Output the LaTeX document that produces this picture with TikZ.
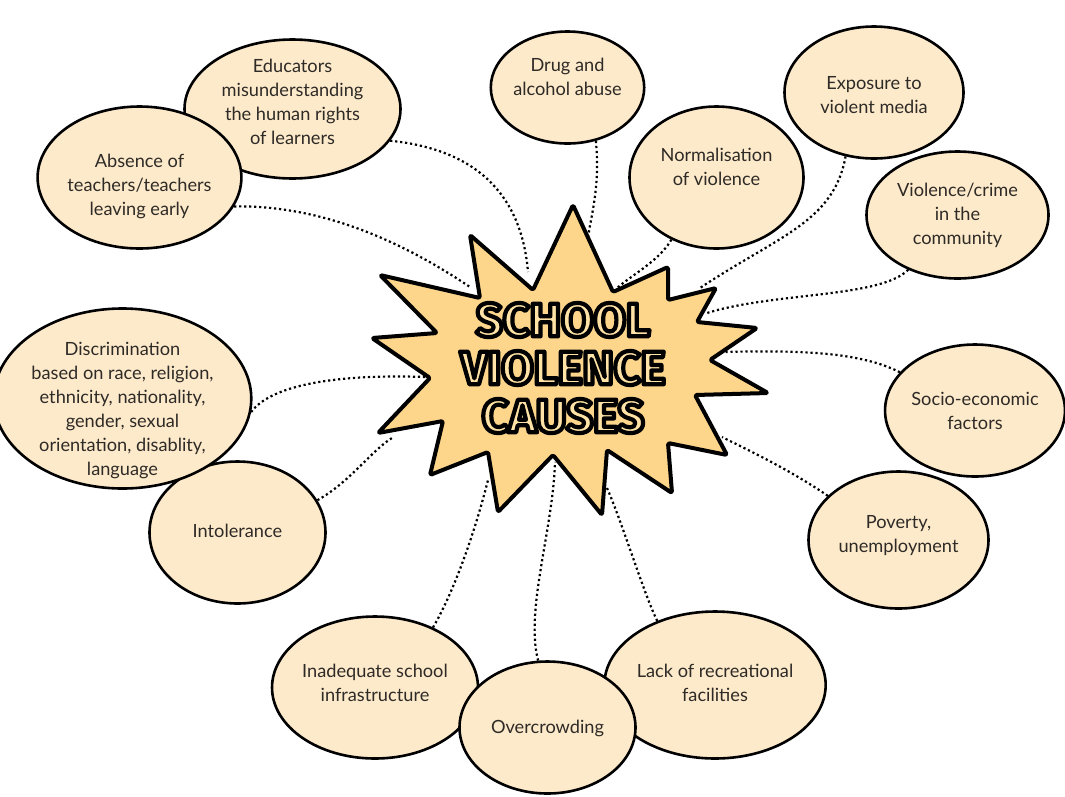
\documentclass[tikz,border=0pt]{standalone}
\usepackage{fontspec}
\setmainfont{Lato}
\newfontfamily\titlefont{Fira Sans}
\usetikzlibrary{shapes.geometric}
\definecolor{bub}{HTML}{FDEACB}
\definecolor{starc}{HTML}{FDD68C}
\definecolor{letc}{HTML}{FFE3A6}
\definecolor{txt}{HTML}{2E2A26}
\newcommand\bubtext[2]{\raisebox{#1}[0pt][0pt]{\begin{tabular}{@{}c@{}}#2\end{tabular}}}
\newcommand\outl[1]{{\color{letc}\special{pdf:literal direct 0 0 0 RG 4.2 w 1 j 2 Tr}#1\special{pdf:literal direct 0 Tr}}}
\tikzset{
  bubble/.style={ellipse, draw=black, line width=2.6pt, fill=bub, inner sep=0pt,
    text=txt, font=\fontsize{18.2}{24}\selectfont},
  conn/.style={draw=black, line width=2.2pt, dash pattern=on 2.2pt off 2.8pt},
  starshape/.style={draw=black, line width=4pt, fill=starc, line join=round, rounded corners=1.5pt},
}
\begin{document}
\begin{tikzpicture}[x=1pt,y=-1pt]
\useasboundingbox (0,0) rectangle (1065,796);

% star end points
\coordinate (eDrug) at (588,237);
\coordinate (eNorm) at (617,288);
\coordinate (eExpo) at (700,288);
\coordinate (eViol) at (707,313);
\coordinate (eSoc) at (725,352);
\coordinate (ePov) at (722,437);
\coordinate (eLack) at (607,488);
\coordinate (eOver) at (555,462);
\coordinate (eInad) at (488,480);
\coordinate (eIntol) at (392,438);
\coordinate (eDisc) at (425,377);
\coordinate (eAbs) at (470,287);
\coordinate (eEdu) at (528,272);

% bubbles
\node[bubble, minimum width=152pt, minimum height=112pt] (drug) at (567.5,87.5) {\bubtext{4.6pt}{Drug and\\alcohol abuse}};
\node[bubble, minimum width=179pt, minimum height=132pt] (expo) at (874,92.5) {\bubtext{-8.4pt}{Exposure to\\violent media}};
\node[bubble, minimum width=174pt, minimum height=142pt] (norm) at (716.5,177.5) {\bubtext{4.6pt}{Normalisation\\of violence}};
\node[bubble, minimum width=182pt, minimum height=127pt] (viol) at (957.5,215) {\bubtext{-5.4pt}{Violence/crime\\in the\\community}};
\node[bubble, minimum width=171pt, minimum height=132pt] (soc) at (975,410.5) {\bubtext{-6.4pt}{Socio-economic\\factors}};
\node[bubble, minimum width=180pt, minimum height=137pt] (pov) at (898.5,540) {\bubtext{-0.4pt}{Poverty,\\unemployment}};
\node[bubble, minimum width=173pt, minimum height=142pt] (inad) at (375,687.5) {\bubtext{-1.4pt}{Inadequate school\\infrastructure}};
\node[bubble, minimum width=167pt, minimum height=147pt] (lack) at (715,685) {\bubtext{-4.4pt}{Lack of recreational\\facilities}};
\node[bubble, minimum width=176pt, minimum height=132pt] (over) at (547.5,727.5) {\bubtext{-5.4pt}{Overcrowding}};
\node[bubble, minimum width=176pt, minimum height=142pt] (intol) at (237.5,532.5) {\bubtext{-4.4pt}{Intolerance}};
\node[bubble, minimum width=218pt, minimum height=180pt] (disc) at (122.5,398.5) {\bubtext{-16.4pt}{Discrimination\\based on race, religion,\\ethnicity, nationality,\\gender, sexual\\orientation, disablity,\\language}};
\node[bubble, minimum width=216pt, minimum height=139pt] (edu) at (292.5,109) {\bubtext{0.6pt}{Educators\\misunderstanding\\the human rights\\of learners}};
\node[bubble, minimum width=182pt, minimum height=142pt] (abs) at (139.5,177.5) {\bubtext{-13.4pt}{Absence of\\teachers/teachers\\leaving early}};

% connectors
\draw[conn] (drug.-62) .. controls (600,185) and (592,212) .. (eDrug);
\draw[conn] (norm.-126) .. controls (660,260) and (632,275) .. (eNorm);
\draw[conn] (expo.-114) .. controls (834,222) and (778,236) .. (eExpo);
\draw[conn] (viol.-132) .. controls (880,298) and (775,292) .. (eViol);
\draw[conn] (soc.153) .. controls (860,352) and (800,350) .. (eSoc);
\draw[conn] (pov.148) .. controls (790,470) and (752,452) .. (ePov);
\draw[conn] (lack.132) .. controls (645,597) and (622,522) .. (eLack);
\draw[conn] (over.98) .. controls (525,610) and (553,530) .. (eOver);
\draw[conn] (inad.46) .. controls (455,590) and (476,528) .. (eInad);
\draw[conn] (intol.22) .. controls (350,482) and (372,450) .. (eIntol);
\draw[conn] (disc.-6) .. controls (272,384) and (340,374) .. (eDisc);
\draw[conn] (abs.-17) .. controls (320,205) and (400,240) .. (eAbs);
\draw[conn] (edu.-18) .. controls (482,150) and (522,200) .. (eEdu);

% star
\path[starshape] (573,205) -- (613,292) -- (668,267) -- (668,300) -- (716,288) -- (697,322)
  -- (757,328) -- (710,360) -- (768,393) -- (695,395) -- (727,455) -- (668,443)
  -- (672,493) -- (607,450) -- (602,515) -- (553,455) -- (498,512) -- (488,452)
  -- (430,475) -- (443,421) -- (378,433) -- (430,378) -- (372,338) -- (437,333)
  -- (380,275) -- (480,298) -- (470,235) -- (533,290) -- cycle;

\node[align=center, inner sep=0pt, font=\titlefont\bfseries\fontsize{47}{48}\selectfont] (title) at (563,368)
  {\outl{SCHOOL}\\\outl{VIOLENCE}\\\outl{CAUSES}};
\end{tikzpicture}
\end{document}
